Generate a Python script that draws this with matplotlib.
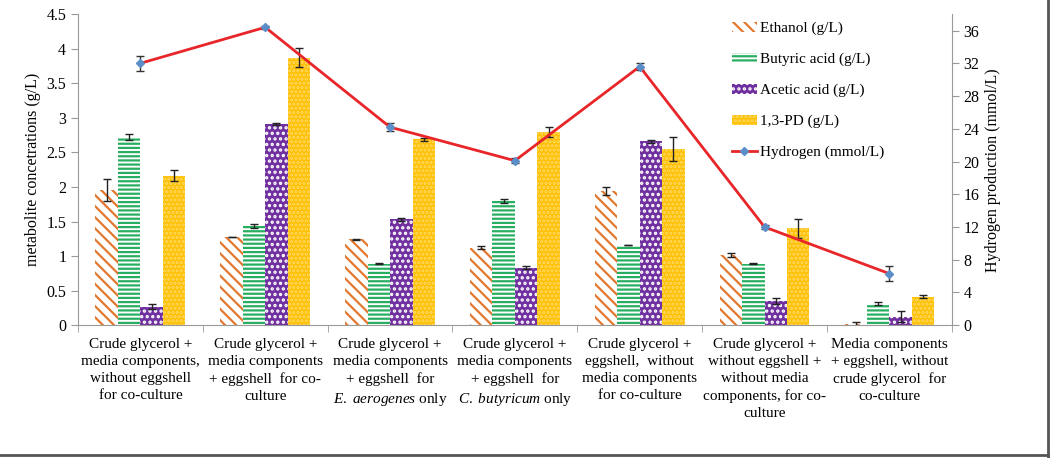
import matplotlib
matplotlib.use("Agg")
import matplotlib.pyplot as plt
import numpy as np
from matplotlib.lines import Line2D

plt.rcParams['font.family'] = ['Liberation Serif', 'DejaVu Serif']
plt.rcParams['mathtext.fontset'] = 'custom'
plt.rcParams['mathtext.rm'] = 'Liberation Serif'
plt.rcParams['mathtext.it'] = 'Liberation Serif:italic'
plt.rcParams['hatch.linewidth'] = 1.6

categories = [
    "Crude glycerol +\nmedia components,\nwithout eggshell\nfor co-culture",
    "Crude glycerol +\nmedia components\n+ eggshell  for co-\nculture",
    "Crude glycerol +\nmedia components\n+ eggshell  for\n$\\it{E.\\ aerogenes}$ only",
    "Crude glycerol +\nmedia components\n+ eggshell  for\n$\\it{C.\\ butyricum}$ only",
    "Crude glycerol +\neggshell,  without\nmedia components\nfor co-culture",
    "Crude glycerol +\nwithout eggshell +\nwithout media\ncomponents, for co-\nculture",
    "Media components\n+ eggshell, without\ncrude glycerol  for\nco-culture",
]

ethanol = [1.95, 1.27, 1.24, 1.12, 1.94, 1.01, 0.01]
ethanol_err = [0.16, 0.0, 0.01, 0.02, 0.06, 0.03, 0.03]
butyric = [2.72, 1.43, 0.89, 1.80, 1.16, 0.89, 0.31]
butyric_err = [0.04, 0.03, 0.005, 0.03, 0.005, 0.01, 0.02]
acetic = [0.27, 2.91, 1.53, 0.83, 2.66, 0.35, 0.12]
acetic_err = [0.03, 0.01, 0.02, 0.02, 0.02, 0.05, 0.08]
pd13 = [2.16, 3.87, 2.69, 2.80, 2.55, 1.40, 0.41]
pd13_err = [0.08, 0.14, 0.02, 0.07, 0.17, 0.14, 0.02]
hydrogen = [32.0, 36.4, 24.2, 20.1, 31.6, 12.0, 6.3]
hydrogen_err = [0.9, 0.2, 0.5, 0.3, 0.4, 0.2, 0.9]

fig = plt.figure(figsize=(10.54, 4.58), dpi=100)
ax = fig.add_axes([0.074, 0.290, 0.829, 0.679])

n = len(categories)
x = np.arange(n)
w = 0.18
offs = [-1.5 * w, -0.5 * w, 0.5 * w, 1.5 * w]

eth_c = '#E2782F'
but_c = '#27AE60'
ace_c = '#7030A0'
pd_c = '#FFC000'

ekw = dict(ecolor='#222222', elinewidth=1.0, capsize=3, capthick=1.0)
b1 = ax.bar(x + offs[0], ethanol, w, facecolor='white', edgecolor=eth_c, hatch='\\\\\\', linewidth=0,
            yerr=ethanol_err, error_kw=ekw)
b2 = ax.bar(x + offs[1], butyric, w, facecolor='white', edgecolor=but_c, hatch='----', linewidth=0,
            yerr=butyric_err, error_kw=ekw)
b3 = ax.bar(x + offs[2], acetic, w, facecolor=ace_c, edgecolor='white', hatch='...', linewidth=0,
            yerr=acetic_err, error_kw=ekw)
b4 = ax.bar(x + offs[3], pd13, w, facecolor=pd_c, edgecolor='#FFD966', hatch='....', linewidth=0,
            yerr=pd13_err, error_kw=ekw)

ax.set_xlim(-0.5, n - 0.5)
ax.set_ylim(0, 4.5)
ax.set_yticks(np.arange(0, 4.51, 0.5))
ax.set_yticklabels(['0', '0.5', '1', '1.5', '2', '2.5', '3', '3.5', '4', '4.5'])
ax.set_xticks(x)
ax.set_xticklabels(categories, fontsize=11, linespacing=1.4)
ax.set_xticks(np.arange(-0.5, n, 1.0), minor=True)
ax.tick_params(axis='x', which='major', length=0, pad=9)
ax.tick_params(axis='x', which='minor', length=5, color='#999999')
ax.tick_params(axis='y', labelsize=11.5, length=5, color='#999999')
ax.set_ylabel('metabolite concetrations (g/L)', fontsize=11.5)
for s in ['top', 'right']:
    ax.spines[s].set_visible(False)
for s in ['left', 'bottom']:
    ax.spines[s].set_color('#999999')

ax2 = ax.twinx()
ax2.set_ylim(0, 38)
ax2.set_yticks(np.arange(0, 37, 4))
ax2.errorbar(x, hydrogen, yerr=hydrogen_err, color='#E8262A', lw=2, marker='D', ms=4,
             mfc='#5B8DC9', mec='#5B8DC9', ecolor='#333333', elinewidth=1, capsize=3)
ax2.tick_params(axis='y', labelsize=11.5, length=5, color='#999999')
ax2.set_ylabel('Hydrogen production (mmol/L)', fontsize=11.5)
for s in ['top', 'left', 'bottom']:
    ax2.spines[s].set_visible(False)
ax2.spines['right'].set_color('#999999')

h_line = Line2D([], [], color='#E8262A', lw=2, marker='D', ms=4, mfc='#5B8DC9', mec='#5B8DC9')
leg = ax2.legend([b1, b2, b3, b4, h_line],
                 ['Ethanol (g/L)', 'Butyric acid (g/L)', 'Acetic acid (g/L)', '1,3-PD (g/L)', 'Hydrogen (mmol/L)'],
                 loc='upper left', bbox_to_anchor=(0.733, 1.02), frameon=False, fontsize=11,
                 labelspacing=1.15, handlelength=1.6, handletextpad=0.2, handleheight=0.6)

# figure border (right and bottom)
fig.add_artist(Line2D([0.9945, 0.9945], [0.0, 1.0], transform=fig.transFigure, color='#555555', lw=2))
fig.add_artist(Line2D([0.0, 0.9945], [0.006, 0.006], transform=fig.transFigure, color='#555555', lw=2))

fig.savefig('out.png', dpi=100)
